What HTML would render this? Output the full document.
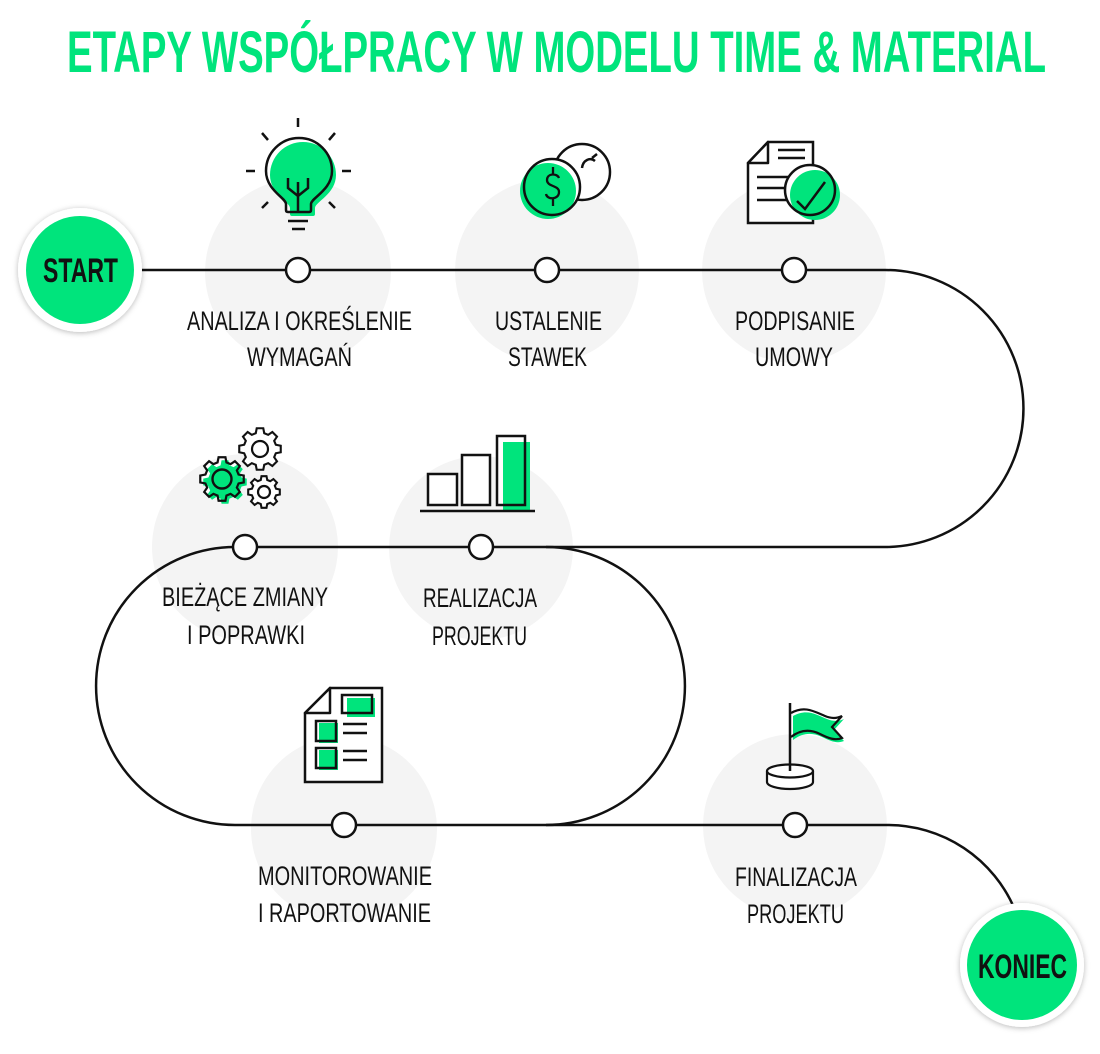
<!DOCTYPE html>
<html><head><meta charset="utf-8"><style>
html,body{margin:0;padding:0;background:#fff;}
svg{display:block;}
.lbl{font-family:"Liberation Sans Narrow","Liberation Sans",sans-serif;font-size:27px;fill:#111;}
</style></head><body>
<svg width="1100" height="1054" viewBox="0 0 1100 1054" xmlns="http://www.w3.org/2000/svg">
<defs>
<filter id="sh" x="-30%" y="-30%" width="160%" height="160%">
<feDropShadow dx="0" dy="1" stdDeviation="3" flood-color="#000" flood-opacity="0.28"/>
</filter>
<path id="gear" d="M75.3,-20.2 L98.8,-15.6 L98.8,15.6 L75.3,20.2 L67.5,39 L80.9,58.8 L58.8,80.9 L39,67.5 L20.2,75.3 L15.6,98.8 L-15.6,98.8 L-20.2,75.3 L-39,67.5 L-58.8,80.9 L-80.9,58.8 L-67.5,39 L-75.3,20.2 L-98.8,15.6 L-98.8,-15.6 L-75.3,-20.2 L-67.5,-39 L-80.9,-58.8 L-58.8,-80.9 L-39,-67.5 L-20.2,-75.3 L-15.6,-98.8 L15.6,-98.8 L20.2,-75.3 L39,-67.5 L58.8,-80.9 L80.9,-58.8 L67.5,-39 Z"/>
</defs>

<!-- title -->
<text x="67" y="72" textLength="979" lengthAdjust="spacingAndGlyphs" font-family="'Liberation Sans Narrow','Liberation Sans',sans-serif" font-weight="bold" font-size="58" fill="#00e47c">ETAPY WSPÓŁPRACY W MODELU TIME &amp; MATERIAL</text>

<!-- gray circles -->
<g fill="#f4f4f4">
<circle cx="298" cy="272" r="93"/>
<circle cx="547" cy="271" r="92"/>
<circle cx="794" cy="271" r="92"/>
<circle cx="245" cy="547" r="93"/>
<circle cx="481" cy="548" r="92"/>
<circle cx="344" cy="829" r="93"/>
<circle cx="795" cy="826" r="92"/>
</g>

<!-- path -->
<g fill="none" stroke="#111" stroke-width="2.5">
<path d="M90,270 H885 A138.5,138.5 0 0 1 885,547 H235 A139,139 0 0 0 235,825 H887 A138,138 0 0 1 1015,910"/>
<path d="M546,547 A139,139 0 0 1 546,825"/>
</g>

<!-- nodes -->
<g fill="#fff" stroke="#111" stroke-width="2.5">
<circle cx="298" cy="270" r="12"/>
<circle cx="547" cy="270" r="12"/>
<circle cx="794" cy="270" r="12"/>
<circle cx="245" cy="547" r="12"/>
<circle cx="481" cy="547" r="12"/>
<circle cx="344" cy="825" r="12"/>
<circle cx="795" cy="825" r="12"/>
</g>

<!-- START / KONIEC -->
<circle cx="80" cy="270" r="62" fill="#fff" filter="url(#sh)"/>
<circle cx="80" cy="270" r="54" fill="#00e47c"/>
<text x="43" y="282" textLength="75" lengthAdjust="spacingAndGlyphs" font-family="'Liberation Sans Narrow','Liberation Sans',sans-serif" font-weight="bold" font-size="34" fill="#111">START</text>
<circle cx="1022" cy="965" r="62" fill="#fff" filter="url(#sh)"/>
<circle cx="1022" cy="965" r="55" fill="#00e47c"/>
<text x="978" y="978" textLength="89" lengthAdjust="spacingAndGlyphs" font-family="'Liberation Sans Narrow','Liberation Sans',sans-serif" font-weight="bold" font-size="34" fill="#111">KONIEC</text>

<!-- lightbulb -->
<g stroke="#111" stroke-width="2.5" fill="none" stroke-linecap="butt">
<path d="M298,118 V127 M262,133 L268,140 M335,133 L329,140 M246,171 H255 M342,171 H351 M262,208 L268,202 M335,208 L329,202"/>
</g>
<path transform="translate(4,4)" d="M286,210 L286,204 C286,198 266,190 266,171 A33,33 0 1 1 332,171 C332,190 311,198 311,204 L311,210 Q311,212 309,212 L288,212 Q286,212 286,210 Z" fill="#00e47c"/>
<path d="M286,210 L286,204 C286,198 266,190 266,171 A33,33 0 1 1 332,171 C332,190 311,198 311,204 L311,210 Q311,212 309,212 L288,212 Q286,212 286,210 Z" fill="none" stroke="#111" stroke-width="2.5"/>
<g stroke="#111" stroke-width="2.5" fill="none">
<path d="M298,211 V182 M288,178 V188 L298,196 L308,188 V178"/>
<path d="M288,221 H308 M292,229 H305"/>
</g>

<!-- coins -->
<circle cx="582" cy="172" r="28" fill="#fff" stroke="#111" stroke-width="2.5"/>
<path d="M582,168 C583,160 590,157 595,161 M592,158 L597,154" fill="none" stroke="#111" stroke-width="2.5"/>
<circle cx="552" cy="187" r="28" fill="#fff"/>
<circle cx="548" cy="191" r="28" fill="#00e47c"/>
<circle cx="552" cy="187" r="28" fill="none" stroke="#111" stroke-width="2.5"/>
<path d="M559,178 C557,173 547,173 547,180 C547,187 559,185 559,192 C559,200 547,200 546,194 M553,167 V174 M553,199 V206" fill="none" stroke="#111" stroke-width="2.3"/>

<!-- contract doc -->
<path d="M768,142 H813 V223 H748 V163 Z" fill="#fff" stroke="#111" stroke-width="2.5"/>
<path d="M748,163 L768,142 V163 Z" fill="#fff" stroke="#111" stroke-width="2.5" stroke-linejoin="round"/>
<path d="M778,150 H805 M778,158 H805 M757,177 H792 M757,188 H792 M757,200 H792" stroke="#111" stroke-width="2.5"/>
<circle cx="810" cy="190" r="25" fill="#fff"/>
<circle cx="815" cy="195" r="25" fill="#00e47c"/>
<circle cx="810" cy="190" r="25" fill="none" stroke="#111" stroke-width="2.5"/>
<path d="M797,201 L805,209 L825,182" fill="none" stroke="#111" stroke-width="2.5"/>

<!-- gears -->
<g transform="translate(260,449) scale(0.21)"><use href="#gear" fill="#fff" stroke="#111" stroke-width="10"/></g>
<circle cx="260" cy="449" r="8" fill="#fff" stroke="#111" stroke-width="2.2"/>
<g transform="translate(264,492) scale(0.16)"><use href="#gear" fill="#fff" stroke="#111" stroke-width="13"/></g>
<circle cx="264" cy="492" r="6" fill="#fff" stroke="#111" stroke-width="2.2"/>
<g transform="translate(222,479) scale(0.22)"><use href="#gear" fill="#fff"/></g>
<g transform="translate(225,482) scale(0.22)"><use href="#gear" fill="#00e47c"/></g>
<g transform="translate(222,479) scale(0.22)"><use href="#gear" fill="none" stroke="#111" stroke-width="10"/></g>
<circle cx="222" cy="479" r="9.5" fill="#00e47c" stroke="#111" stroke-width="2.4"/>

<!-- chart -->
<rect x="428" y="474" width="29" height="31" fill="#fff" stroke="#111" stroke-width="2.5"/>
<rect x="462" y="455" width="28" height="50" fill="#fff" stroke="#111" stroke-width="2.5"/>
<rect x="497" y="436" width="28" height="69" fill="#fff"/>
<rect x="503" y="442" width="27" height="68" fill="#00e47c"/>
<rect x="497" y="436" width="28" height="69" fill="none" stroke="#111" stroke-width="2.5"/>
<path d="M420,511 H535" stroke="#111" stroke-width="2.5"/>

<!-- checklist -->
<path d="M330,688 H382 V782 H305 V713 Z" fill="#fff" stroke="#111" stroke-width="2.5"/>
<path d="M305,713 L330,688 V713 Z" fill="#fff" stroke="#111" stroke-width="2.5" stroke-linejoin="round"/>
<rect x="347" y="698" width="28" height="19" fill="#00e47c"/>
<rect x="342" y="695" width="30" height="18" fill="none" stroke="#111" stroke-width="2.5"/>
<rect x="319" y="723" width="19" height="20" fill="#00e47c"/>
<rect x="316" y="721" width="20" height="20" fill="none" stroke="#111" stroke-width="2.5"/>
<rect x="319" y="750" width="19" height="20" fill="#00e47c"/>
<rect x="316" y="748" width="20" height="20" fill="none" stroke="#111" stroke-width="2.5"/>
<path d="M343,724 H367 M343,733 H367 M343,751 H367 M343,760 H367" stroke="#111" stroke-width="2.5"/>

<!-- flag -->
<path transform="translate(2,3)" d="M791,713 C805,705 815,712 825,716 C832,719 838,718 842,716 L832,727 L842,738 C835,741 828,738 820,734 C810,729 800,730 791,737 Z" fill="#00e47c"/>
<path d="M791,713 C805,705 815,712 825,716 C832,719 838,718 842,716 L832,727 L842,738 C835,741 828,738 820,734 C810,729 800,730 791,737" fill="none" stroke="#111" stroke-width="2.2"/>
<path d="M767,771 V782 A23,7 0 0 0 813,782 V771" fill="#fff" stroke="#111" stroke-width="2.2"/>
<ellipse cx="790" cy="771" rx="23" ry="6.5" fill="#fff" stroke="#111" stroke-width="2.2"/>
<path d="M790,703 V771" stroke="#111" stroke-width="2.5"/>

<!-- labels -->
<text class="lbl" x="187" y="330" textLength="225" lengthAdjust="spacingAndGlyphs">ANALIZA I OKREŚLENIE</text>
<text class="lbl" x="247" y="366" textLength="105" lengthAdjust="spacingAndGlyphs">WYMAGAŃ</text>
<text class="lbl" x="495" y="330" textLength="107" lengthAdjust="spacingAndGlyphs">USTALENIE</text>
<text class="lbl" x="508" y="366" textLength="79" lengthAdjust="spacingAndGlyphs">STAWEK</text>
<text class="lbl" x="735" y="330" textLength="120" lengthAdjust="spacingAndGlyphs">PODPISANIE</text>
<text class="lbl" x="755" y="366" textLength="78" lengthAdjust="spacingAndGlyphs">UMOWY</text>
<text class="lbl" x="162" y="606" textLength="166" lengthAdjust="spacingAndGlyphs">BIEŻĄCE ZMIANY</text>
<text class="lbl" x="187" y="644" textLength="118" lengthAdjust="spacingAndGlyphs">I POPRAWKI</text>
<text class="lbl" x="423" y="607" textLength="114" lengthAdjust="spacingAndGlyphs">REALIZACJA</text>
<text class="lbl" x="432" y="645" textLength="95" lengthAdjust="spacingAndGlyphs">PROJEKTU</text>
<text class="lbl" x="258" y="885" textLength="174" lengthAdjust="spacingAndGlyphs">MONITOROWANIE</text>
<text class="lbl" x="258" y="922" textLength="173" lengthAdjust="spacingAndGlyphs">I RAPORTOWANIE</text>
<text class="lbl" x="735" y="886" textLength="122" lengthAdjust="spacingAndGlyphs">FINALIZACJA</text>
<text class="lbl" x="747" y="923" textLength="97" lengthAdjust="spacingAndGlyphs">PROJEKTU</text>
</svg>
</body></html>
